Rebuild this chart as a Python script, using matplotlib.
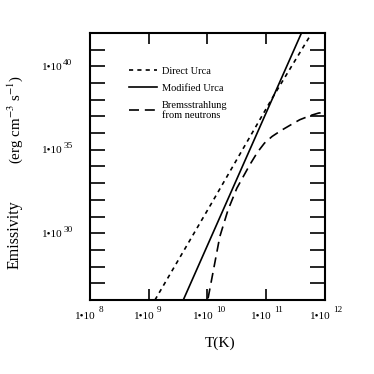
import numpy as np
import matplotlib
matplotlib.use("Agg")
import matplotlib.pyplot as plt

plt.rcParams["font.family"] = ["Liberation Serif", "DejaVu Serif"]
plt.rcParams["mathtext.fontset"] = "stix"

# log10(T), log10(emissivity)
direct_logT = [9.106, 10.07, 11.12, 11.745]
direct_logE = [26.0, 31.8, 38.2, 41.82]

modified_logT = [9.588, 11.60]
modified_logE = [26.0, 42.0]

brems_logT = [10.01, 10.21, 10.35, 10.50, 10.61, 10.72, 10.85, 10.97, 11.10, 11.25, 11.42, 11.57, 11.75, 11.89, 12.0]
brems_logE = [26.1, 29.8, 31.4, 32.7, 33.4, 34.1, 34.85, 35.4, 35.8, 36.15, 36.5, 36.8, 37.05, 37.2, 37.25]

x_ticks = [8, 9, 10, 11, 12]
y_ticks = list(range(27, 42))
y_labelled = [30, 35, 40]

PX = 0.72  # points per pixel at dpi 100

fig = plt.figure(figsize=(3.74, 3.74), dpi=100)
ax = fig.add_axes([0.2406, 0.1979, 0.6283, 0.7139])

ax.plot(10 ** np.array(direct_logT), 10 ** np.array(direct_logE), color="black",
        lw=1.2, dashes=(2.5, 2.5), label="Direct Urca")
ax.plot(10 ** np.array(modified_logT), 10 ** np.array(modified_logE), color="black",
        lw=1.2, label="Modified Urca")
ax.plot(10 ** np.array(brems_logT), 10 ** np.array(brems_logE), color="black",
        lw=1.2, dashes=(6, 3.5), label="Bremsstrahlung\nfrom neutrons")

ax.set_xscale("log")
ax.set_yscale("log")
ax.set_xlim(1e8, 1e12)
ax.set_ylim(1e26, 1e42)

ax.set_xticks([10.0 ** t for t in x_ticks])
ax.set_yticks([10.0 ** t for t in y_ticks])
ax.set_xticklabels([])
ax.set_yticklabels([])
ax.minorticks_off()

ax.tick_params(axis="x", direction="in", length=8, width=1.2, top=True)
ax.tick_params(axis="y", direction="in", length=11, width=1.2, right=True)
for s in ax.spines.values():
    s.set_linewidth(1.5)

# "1•10" + raised exponent, drawn as two texts like the original
for t in x_ticks:
    ax.annotate("1\u202210", xy=(10.0 ** t, 0), xycoords=("data", "axes fraction"),
                xytext=(5.7 * PX, -19 * PX), textcoords="offset points",
                ha="right", va="baseline", fontsize=8)
    ax.annotate(str(t), xy=(10.0 ** t, 0), xycoords=("data", "axes fraction"),
                xytext=(8.3 * PX, -12.3 * PX), textcoords="offset points",
                ha="left", va="baseline", fontsize=6.6)
for t in y_labelled:
    ax.annotate("1\u202210", xy=(0, 10.0 ** t), xycoords=("axes fraction", "data"),
                xytext=(-27.7 * PX, -3.4 * PX), textcoords="offset points",
                ha="right", va="baseline", fontsize=8)
    ax.annotate(str(t), xy=(0, 10.0 ** t), xycoords=("axes fraction", "data"),
                xytext=(-26.7 * PX, 1.6 * PX), textcoords="offset points",
                ha="left", va="baseline", fontsize=6.6)

ax.legend(loc="upper left", bbox_to_anchor=(0.125, 0.91), frameon=False, fontsize=7.5,
          handlelength=2.7, handletextpad=0.5, labelspacing=0.75)

fig.text(0.588, 0.083, "T(K)", ha="center", va="center", fontsize=11)
fig.text(0.04, 0.372, "Emissivity", ha="center", va="center", rotation=90, fontsize=11.5)
fig.text(0.04, 0.68, "(erg cm$^{-3}$ s$^{-1}$)", ha="center", va="center",
         rotation=90, fontsize=10.8)

fig.savefig("out.png", dpi=100)
